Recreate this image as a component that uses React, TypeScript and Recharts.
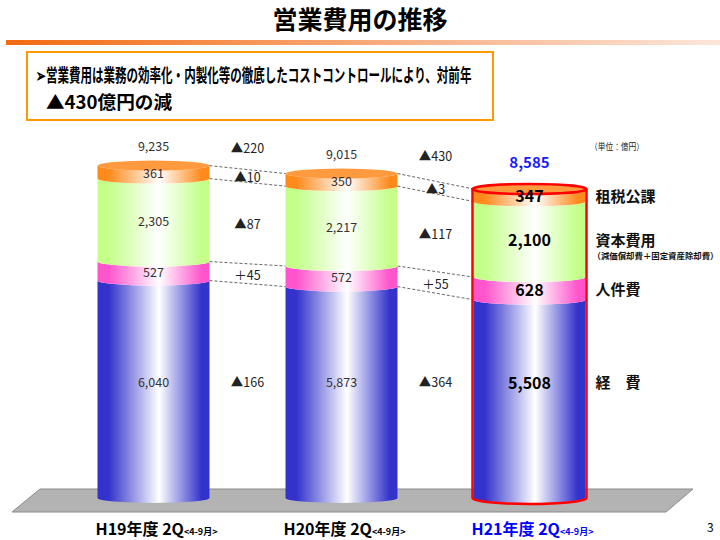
import React from "react";
import { Bar, BarChart, LabelList, XAxis, YAxis } from "recharts";

// 億円, H19〜H21 2Q (4-9月)
const categories = ["H19年度 2Q", "H20年度 2Q", "H21年度 2Q"];
const periodNote = "<4-9月>";
const keihi = [6040, 5873, 5508];
const jinkenhi = [527, 572, 628];
const shihonhi = [2305, 2217, 2100];
const sozei = [361, 350, 347];
const totals = [9235, 9015, 8585];

// 前年比の増減
const totalDiff = ["▲220", "▲430"];
const keihiDiff = ["▲166", "▲364"];
const jinkenDiff = ["＋45", "＋55"];
const shihonDiff = ["▲87", "▲117"];
const sozeiDiff = ["▲10", "▲3"];

const seriesNames: Record<string, string> = {
  keihi: "経　費",
  jinken: "人件費",
  shihon: "資本費用",
  sozei: "租税公課",
};
const shihonNote = "（減価償却費＋固定資産除却費）";

const keys = ["keihi", "jinken", "shihon", "sozei"];
const diffs: Record<string, string[]> = {
  keihi: keihiDiff,
  jinken: jinkenDiff,
  shihon: shihonDiff,
  sozei: sozeiDiff,
};
const colors: Record<string, string> = {
  keihi: "#3333cc",
  jinken: "#ff55cc",
  shihon: "#c4ff8a",
  sozei: "#ff8a1c",
};

const data = categories.map((name, i) => ({
  name,
  keihi: keihi[i],
  jinken: jinkenhi[i],
  shihon: shihonhi[i],
  sozei: sozei[i],
  total: totals[i],
}));

const FONT = '"Noto Sans CJK JP", "Noto Sans", sans-serif';
const MARGIN = { top: 138, right: 96.5, bottom: 12, left: 59.5 };
const STEP = (720 - MARGIN.left - MARGIN.right) / categories.length;
const BAR = 112;
const RY = 5;

function makeShape(key: string) {
  return (props: any) => {
    const { x, y, width: w, height: h, payload } = props;
    const i = categories.indexOf(payload.name);
    const pos = keys.indexOf(key);
    const ppu = h / payload[key];
    const below = keys.slice(0, pos).reduce((s, k) => s + payload[k], 0);
    const base = y + h + below * ppu;
    const rx = w / 2;
    const gid = `grad-${key}`;
    const d = `M${x},${y} A${rx},${RY} 0 0 0 ${x + w},${y} L${x + w},${y + h} A${rx},${RY} 0 0 1 ${x},${y + h} Z`;

    let connectors: React.ReactNode = null;
    let diffLabel: React.ReactNode = null;
    let totalLabel: React.ReactNode = null;
    if (i < categories.length - 1) {
      const next = data[i + 1] as any;
      const belowNext = keys.slice(0, pos).reduce((s, k) => s + next[k], 0);
      const nTop = base - (belowNext + next[key]) * ppu;
      const nBottom = base - belowNext * ppu;
      const nx = x + STEP;
      if (key === "sozei" || key === "jinken") {
        connectors = (
          <g stroke="#555" strokeWidth={0.9} strokeDasharray="3 2">
            <line x1={x + w} y1={y} x2={nx} y2={nTop} />
            <line x1={x + w} y1={y + h} x2={nx} y2={nBottom} />
          </g>
        );
      }
      const gx = x + w + (STEP - w) / 2;
      const gy = key === "keihi" ? base - 115 : (y + h / 2 + nTop + (nBottom - nTop) / 2) / 2 + 2;
      diffLabel = (
        <text x={gx} y={gy} dy="0.35em" textAnchor="middle" fontFamily={FONT} fontSize={12.5} fill="#222">
          {diffs[key][i]}
        </text>
      );
      if (key === "sozei") {
        totalLabel = (
          <text x={gx} y={y - 17} dy="0.35em" textAnchor="middle" fontFamily={FONT} fontSize={12.5} fill="#222">
            {totalDiff[i]}
          </text>
        );
      }
    }

    let outline: React.ReactNode = null;
    let legend: React.ReactNode = null;
    if (i === categories.length - 1) {
      if (key === "sozei") {
        outline = (
          <g fill="none" stroke="#ff0000" strokeWidth={2.5}>
            <path d={`M${x - 1},${y} L${x - 1},${base} A${rx + 1},${RY + 1} 0 0 0 ${x + w + 1},${base} L${x + w + 1},${y}`} />
            <ellipse cx={x + rx} cy={y} rx={rx + 1} ry={RY} />
          </g>
        );
      }
      const ly = key === "keihi" ? base - 115 : y + h / 2 + RY * 0.3;
      legend = (
        <g fontFamily={FONT} fontWeight="bold" fill="#111">
          <text x={x + w + 10} y={ly} dy="0.35em" fontSize={15}>
            {seriesNames[key]}
          </text>
          {key === "shihon" && (
            <text x={x + w + 7} y={ly + 15} dy="0.35em" fontSize={8.5} textLength={126} lengthAdjust="spacingAndGlyphs">
              {shihonNote}
            </text>
          )}
        </g>
      );
    }

    return (
      <g>
        <defs>
          <linearGradient id={gid} x1="0" y1="0" x2="1" y2="0">
            <stop offset="0" stopColor={colors[key]} />
            <stop offset="0.1" stopColor={colors[key]} />
            <stop offset="0.55" stopColor="#ffffff" />
            <stop offset="0.93" stopColor={colors[key]} />
            <stop offset="1" stopColor={colors[key]} />
          </linearGradient>
        </defs>
        <path d={d} fill={`url(#${gid})`} />
        {key === "sozei" && <ellipse cx={x + rx} cy={y} rx={rx} ry={RY} fill={colors[key]} opacity={0.85} />}
        {connectors}
        {diffLabel}
        {totalLabel}
        {outline}
        {legend}
      </g>
    );
  };
}

function box(props: any) {
  const vb = props.viewBox && props.viewBox.width !== undefined ? props.viewBox : props;
  return { x: vb.x, y: vb.y, w: vb.width, h: vb.height };
}

function valueLabel(key: string) {
  return (props: any) => {
    const { x, y, w, h } = box(props);
    const i = props.index ?? Math.round((x + w / 2 - MARGIN.left - STEP / 2) / STEP);
    const strong = i === categories.length - 1;
    const ly = key === "keihi" ? y + h - 115 : y + h / 2 + RY * 0.3;
    return (
      <text
        x={x + w / 2}
        y={ly}
        dy="0.35em"
        textAnchor="middle"
        fontFamily={FONT}
        fontSize={strong ? 16 : 12.5}
        fontWeight={strong ? "bold" : "normal"}
        fill={strong ? "#000" : "#333"}
      >
        {Number(props.value).toLocaleString("en-US")}
      </text>
    );
  };
}

function totalLabel(props: any) {
  const { x, y, w } = box(props);
  const i = props.index ?? Math.round((x + w / 2 - MARGIN.left - STEP / 2) / STEP);
  const strong = i === categories.length - 1;
  return (
    <text
      x={x + w / 2}
      y={y - (strong ? 26 : 19)}
      dy="0.35em"
      textAnchor="middle"
      fontFamily={FONT}
      fontSize={strong ? 15 : 12.5}
      fontWeight={strong ? "bold" : "normal"}
      fill={strong ? "#1a1aff" : "#333"}
    >
      {Number(props.value).toLocaleString("en-US")}
    </text>
  );
}

function CategoryTick(props: any) {
  const { x, y, payload, index } = props;
  const last = index === categories.length - 1;
  return (
    <text x={x + 3} y={y + 35} textAnchor="middle" fontFamily={FONT} fontWeight="bold" fill={last ? "#0000ff" : "#000"}>
      <tspan fontSize={16}>{payload.value}</tspan>
      <tspan fontSize={9}>{periodNote}</tspan>
    </text>
  );
}

export default function App() {
  return (
    <div style={{ position: "absolute", left: 0, top: 0, width: 720, height: 540, background: "#fff" }}>
      <svg width={720} height={540} style={{ position: "absolute", left: 0, top: 0 }}>
        <defs>
          <linearGradient id="rule" x1="0" y1="0" x2="1" y2="0">
            <stop offset="0" stopColor="#f26a10" />
            <stop offset="0.5" stopColor="#f8a878" />
            <stop offset="1" stopColor="#fbe6da" />
          </linearGradient>
        </defs>
        <text x={360} y={29} textAnchor="middle" fontFamily={FONT} fontSize={25} fontWeight="bold" fill="#000">
          営業費用の推移
        </text>
        <rect x={6} y={40} width={714} height={5} fill="url(#rule)" />
        <rect x={27} y={52} width={466} height={68} fill="#fff" stroke="#ff9900" strokeWidth={2} />
        <text transform="translate(36,82) scale(0.64,1)" fontFamily={FONT} fontSize={18} fontWeight="bold" fill="#000">
          ➢営業費用は業務の効率化・内製化等の徹底したコストコントロールにより、対前年
        </text>
        <text x={46} y={109} fontFamily={FONT} fontSize={18} fontWeight="bold" fill="#000" textLength={126} lengthAdjust="spacingAndGlyphs">
          ▲430億円の減
        </text>
        <polygon points="40,489 693,489 666,512 12,512" fill="#b3b3b3" stroke="#8a8a8a" strokeWidth={1} />
        <text x={590} y={150} fontFamily={FONT} fontSize={9} fill="#222" textLength={54} lengthAdjust="spacingAndGlyphs">
          （単位：億円）
        </text>
        <text x={707} y={532} fontFamily={FONT} fontSize={12} fill="#000">
          3
        </text>
      </svg>
      <div style={{ position: "absolute", left: 0, top: 0 }}>
        <BarChart width={720} height={540} data={data} margin={MARGIN} barSize={BAR}>
          <XAxis dataKey="name" axisLine={false} tickLine={false} tickSize={0} height={30} interval={0} tick={<CategoryTick />} />
          <YAxis hide domain={[0, 10000]} />
          {keys.map((key) => (
            <Bar key={key} dataKey={key} stackId="s" isAnimationActive={false} shape={makeShape(key)}>
              <LabelList dataKey={key} content={valueLabel(key)} />
              {key === "sozei" && <LabelList dataKey="total" content={totalLabel} />}
            </Bar>
          ))}
        </BarChart>
      </div>
    </div>
  );
}
